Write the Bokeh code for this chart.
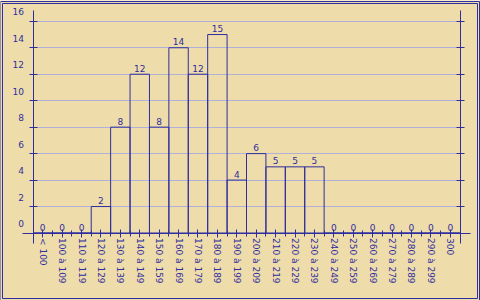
from bokeh.plotting import figure
from bokeh.models import (Range1d, LinearAxis, FixedTicker, Grid, BoxAnnotation,
                          ColumnDataSource)
from bokeh.core.properties import value
from bokeh.embed import file_html
from bokeh.resources import INLINE

# ---------------- data ----------------
categories = ["< 100", "100 à 109", "110 à 119", "120 à 129", "130 à 139",
              "140 à 149", "150 à 159", "160 à 169", "170 à 179", "180 à 189",
              "190 à 199", "200 à 209", "210 à 219", "220 à 229", "230 à 239",
              "240 à 249", "250 à 259", "260 à 269", "270 à 279", "280 à 289",
              "290 à 299", "300"]
counts = [0, 0, 0, 2, 8, 12, 8, 14, 12, 15, 4, 6, 5, 5, 5, 0, 0, 0, 0, 0, 0, 0]
y_ticks = [0, 2, 4, 6, 8, 10, 12, 14, 16]
y_tick_labels = ["0", "2", "4", "6", "8", "10", "12", "14", "16"]

# ---------------- style ----------------
BLUE = "#2e2e9e"
GRID = "#b0b0d8"
BG = "#eedcaa"
FONT = "DejaVu Sans"
FS = "9px"

W, H = 480, 300
n = len(categories)
idx = list(range(n))

# pixel layout of the plotting area (frame == whole canvas)
PX_LEFT, PX_RIGHT = 32.5, 459.5
PX_ZERO, PX_TOP = 232.5, 20.8
sx = (PX_RIGHT - PX_LEFT) / n
ymax = y_ticks[-1]
sy = (PX_ZERO - PX_TOP) / ymax

x_start = -0.5 - PX_LEFT / sx
x_end = n - 0.5 + (W - PX_RIGHT) / sx
y_start = -(H - PX_ZERO) / sy
y_end = ymax + PX_TOP / sy

p = figure(width=W, height=H, output_backend="svg", toolbar_location=None,
           x_axis_type=None, y_axis_type=None, title=None,
           x_range=Range1d(x_start, x_end), y_range=Range1d(y_start, y_end),
           min_border=0, min_border_left=0, min_border_right=0,
           min_border_top=0, min_border_bottom=0)
p.background_fill_color = BG
p.border_fill_color = BG
p.outline_line_color = None

# grid
grid = Grid(dimension=1, ticker=FixedTicker(ticks=y_ticks),
            grid_line_color=GRID, grid_line_width=1)
if "cross_bounds" in Grid.properties():
    grid.cross_bounds = (-0.5, n - 0.5)
p.add_layout(grid)

# bars
src = ColumnDataSource(dict(x=idx, top=counts, label=[str(c) for c in counts]))
p.vbar(x="x", top="top", bottom=0, width=1, source=src,
       fill_color=None, line_color=BLUE, line_width=1)
p.text(x="x", y="top", text="label", source=src, text_align="center",
       text_baseline="alphabetic", y_offset=-6, text_font=value(FONT),
       text_font_size=FS, text_color=BLUE)

x_bounds = (-0.5 - 10.5 / sx, n - 0.5 + 10.5 / sx)
y_bounds = (-10 / sy, ymax + 10.8 / sy)

# x axis at y = 0
xaxis = LinearAxis(fixed_location=0, bounds=x_bounds,
                   ticker=FixedTicker(ticks=idx, minor_ticks=[i - 0.5 for i in range(n + 1)]),
                   major_label_overrides={i: c for i, c in zip(idx, categories)},
                   major_label_orientation="vertical",
                   major_label_standoff=1,
                   major_label_text_font=FONT, major_label_text_font_size=FS,
                   major_label_text_color=BLUE,
                   axis_line_color=BLUE, major_tick_line_color=BLUE,
                   minor_tick_line_color=BLUE,
                   major_tick_in=4, major_tick_out=4,
                   minor_tick_in=3, minor_tick_out=3)
p.add_layout(xaxis, "below")

# left y axis: labels (major, just above their ticks) + tick marks (minor)
shift = 9.5 / sy
label_ticks = [t + shift for t in y_ticks]
yaxis_l = LinearAxis(fixed_location=-0.5, bounds=y_bounds,
                     ticker=FixedTicker(ticks=label_ticks, minor_ticks=y_ticks),
                     major_label_overrides={lt: s for lt, s in zip(label_ticks, y_tick_labels)},
                     major_label_standoff=5,
                     major_label_text_font=FONT, major_label_text_font_size=FS,
                     major_label_text_color=BLUE,
                     axis_line_color=BLUE, major_tick_line_color=None,
                     major_tick_in=0, major_tick_out=0,
                     minor_tick_line_color=BLUE, minor_tick_in=4, minor_tick_out=4)
p.add_layout(yaxis_l, "left")

# right y axis: line and tick marks only
yaxis_r = LinearAxis(fixed_location=n - 0.5, bounds=y_bounds,
                     ticker=FixedTicker(ticks=[], minor_ticks=y_ticks),
                     axis_line_color=BLUE, major_tick_line_color=None,
                     major_tick_in=0, major_tick_out=0,
                     minor_tick_line_color=BLUE, minor_tick_in=4, minor_tick_out=4)
p.add_layout(yaxis_r, "right")

# double border around the picture
for inset in (0, 2):
    p.add_layout(BoxAnnotation(left=inset, right=W - 1 - inset, top=inset, bottom=H - 1 - inset,
                               left_units="screen", right_units="screen",
                               top_units="screen", bottom_units="screen",
                               fill_color=None, fill_alpha=0,
                               line_color=BLUE, line_alpha=1, line_width=1,
                               level="overlay"))

open("out.html", "w").write(file_html(p, INLINE))
